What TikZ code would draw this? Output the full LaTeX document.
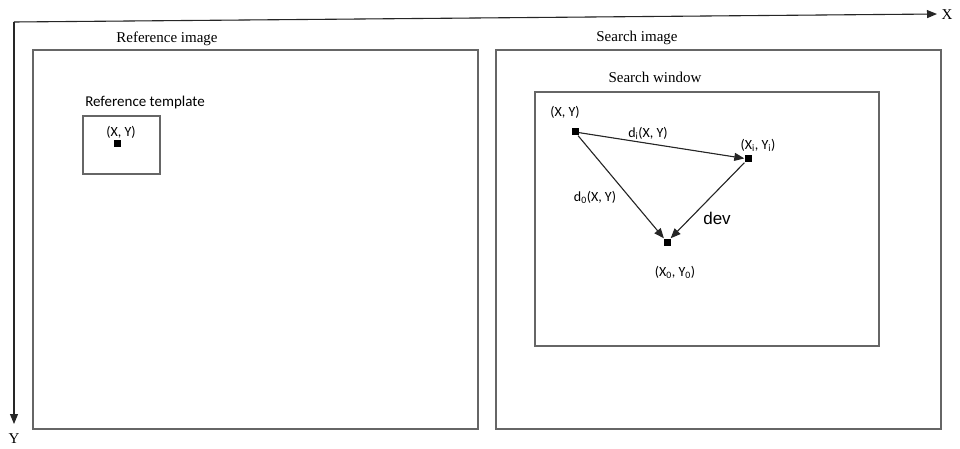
\documentclass[tikz,border=0pt]{standalone}
\usepackage{fontspec}
\setmainfont{Liberation Serif}
\newfontfamily\lblfont{Carlito}
\newfontfamily\devfont{Liberation Sans}
\usetikzlibrary{arrows.meta}

\begin{document}
\begin{tikzpicture}[x=1pt, y=-1pt,
    frame/.style={draw=black!60, line width=1.3pt},
    ttl/.style={font=\fontsize{15}{17}\selectfont, inner sep=0pt},
    lbl/.style={font=\lblfont\fontsize{14}{16}\selectfont, inner sep=0pt},
    pt/.style={fill=black, minimum size=7pt, inner sep=0pt},
    arr/.style={-{Triangle[length=10pt, width=8pt]}, line width=1.1pt, draw=black!85, fill=black}
]
\useasboundingbox (0,0) rectangle (960,449);

% axes
\coordinate (origin) at (14,22);
\coordinate (xend)   at (937,14);
\coordinate (yend)   at (14,424);
\draw[arr] (origin) -- (xend);
\draw[arr] (origin) -- (yend);
\node[ttl] (xlbl) at (947,15)  {X};
\node[ttl] (ylbl) at (14,439)  {Y};

% frames
\draw[frame] (33,50)  rectangle (478,429);
\draw[frame] (496,50) rectangle (941,429);
\draw[frame] (535,92) rectangle (879,346);
\draw[frame] (83,116) rectangle (160,174);

\node[ttl] (refimg)  at (167,39)  {Reference image};
\node[ttl] (srchimg) at (637,38)  {Search image};
\node[ttl] (srchwin) at (655,77)  {Search window};
\node[lbl, font=\lblfont\fontsize{15}{17}\selectfont] (reftpl) at (145,103) {Reference template};

% template point
\node[pt]  (tplpt) at (117,144) {};
\node[lbl] (tplxy) at (121,132) {(X, Y)};

% search points
\node[pt] (ptA) at (575,132) {};
\node[pt] (ptB) at (748,159) {};
\node[pt] (ptC) at (667,242) {};
\node[lbl] (lblA) at (565,112) {(X, Y)};
\node[lbl] (lblB) at (758,145) {(X\textsubscript{i}, Y\textsubscript{i})};
\node[lbl] (lblC) at (675,272) {(X\textsubscript{0}, Y\textsubscript{0})};

\draw[arr] (ptA) -- (ptB);
\draw[arr] (ptA) -- (ptC);
\draw[arr] (ptB) -- (ptC);
\node[lbl] (di)  at (648,133) {d\textsubscript{i}(X, Y)};
\node[lbl] (d0)  at (595,197) {d\textsubscript{0}(X, Y)};
\node[lbl, font=\devfont\fontsize{17}{19}\selectfont] (dev) at (717,218) {dev};
\end{tikzpicture}
\end{document}
